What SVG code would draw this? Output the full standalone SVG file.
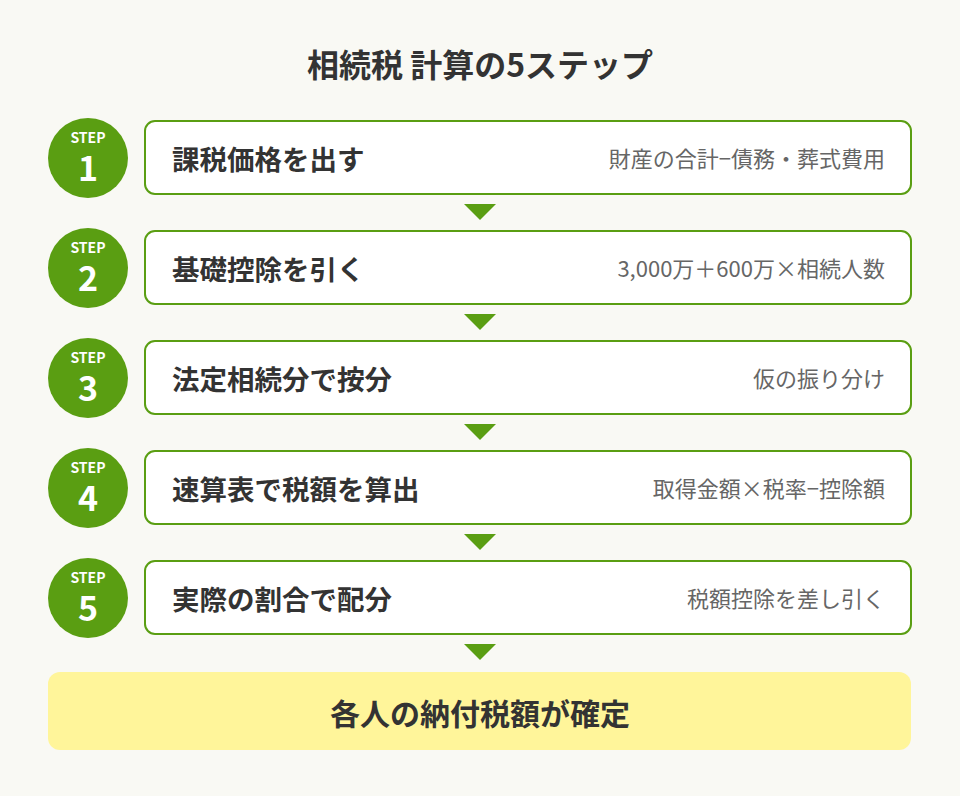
<svg xmlns="http://www.w3.org/2000/svg" width="960" height="796" viewBox="0 0 960 796">
<style>
text{font-family:"Noto Sans CJK JP","Noto Sans",sans-serif}
.box{fill:#ffffff;stroke:#5a9e12;stroke-width:2}
.circ{fill:#5a9e12}
.step{fill:#ffffff;font-size:14px;font-weight:700;text-anchor:middle}
.num{fill:#ffffff;font-size:34px;font-weight:700;text-anchor:middle}
.main{fill:#333333;font-size:27.5px;font-weight:700}
.sub{fill:#666666;font-size:22px;text-anchor:end}
.arr{fill:#5a9e12}
</style>
<rect width="960" height="796" fill="#f9f9f4"/>
<text x="480" y="77" text-anchor="middle" font-size="32" font-weight="700" fill="#333333">相続税 計算の5ステップ</text>
<g id="connectors">
<polygon class="arr" points="464,204 496,204 480,220"/>
<polygon class="arr" points="464,314 496,314 480,330"/>
<polygon class="arr" points="464,424 496,424 480,440"/>
<polygon class="arr" points="464,534 496,534 480,550"/>
<polygon class="arr" points="464,644 496,644 480,660"/>
</g>
<g id="step1">
<circle class="circ" cx="88" cy="158" r="40"/>
<text class="step" x="88" y="143">STEP</text>
<text class="num" x="88" y="181">1</text>
<rect class="box" x="145" y="121" width="766" height="73" rx="10"/>
<text class="main" x="172" y="170">課税価格を出す</text>
<text class="sub" x="885" y="167">財産の合計−債務・葬式費用</text>
</g>
<g id="step2">
<circle class="circ" cx="88" cy="268" r="40"/>
<text class="step" x="88" y="253">STEP</text>
<text class="num" x="88" y="291">2</text>
<rect class="box" x="145" y="231" width="766" height="73" rx="10"/>
<text class="main" x="172" y="280">基礎控除を引く</text>
<text class="sub" x="885" y="277">3,000万＋600万×相続人数</text>
</g>
<g id="step3">
<circle class="circ" cx="88" cy="378" r="40"/>
<text class="step" x="88" y="363">STEP</text>
<text class="num" x="88" y="401">3</text>
<rect class="box" x="145" y="341" width="766" height="73" rx="10"/>
<text class="main" x="172" y="390">法定相続分で按分</text>
<text class="sub" x="885" y="387">仮の振り分け</text>
</g>
<g id="step4">
<circle class="circ" cx="88" cy="488" r="40"/>
<text class="step" x="88" y="473">STEP</text>
<text class="num" x="88" y="511">4</text>
<rect class="box" x="145" y="451" width="766" height="73" rx="10"/>
<text class="main" x="172" y="500">速算表で税額を算出</text>
<text class="sub" x="885" y="497">取得金額×税率−控除額</text>
</g>
<g id="step5">
<circle class="circ" cx="88" cy="598" r="40"/>
<text class="step" x="88" y="583">STEP</text>
<text class="num" x="88" y="621">5</text>
<rect class="box" x="145" y="561" width="766" height="73" rx="10"/>
<text class="main" x="172" y="610">実際の割合で配分</text>
<text class="sub" x="885" y="607">税額控除を差し引く</text>
</g>
<g id="result">
<rect x="48" y="672" width="863" height="78" rx="12" fill="#fff59a"/>
<text x="480" y="725" text-anchor="middle" font-size="30" font-weight="700" fill="#333333">各人の納付税額が確定</text>
</g>
</svg>
